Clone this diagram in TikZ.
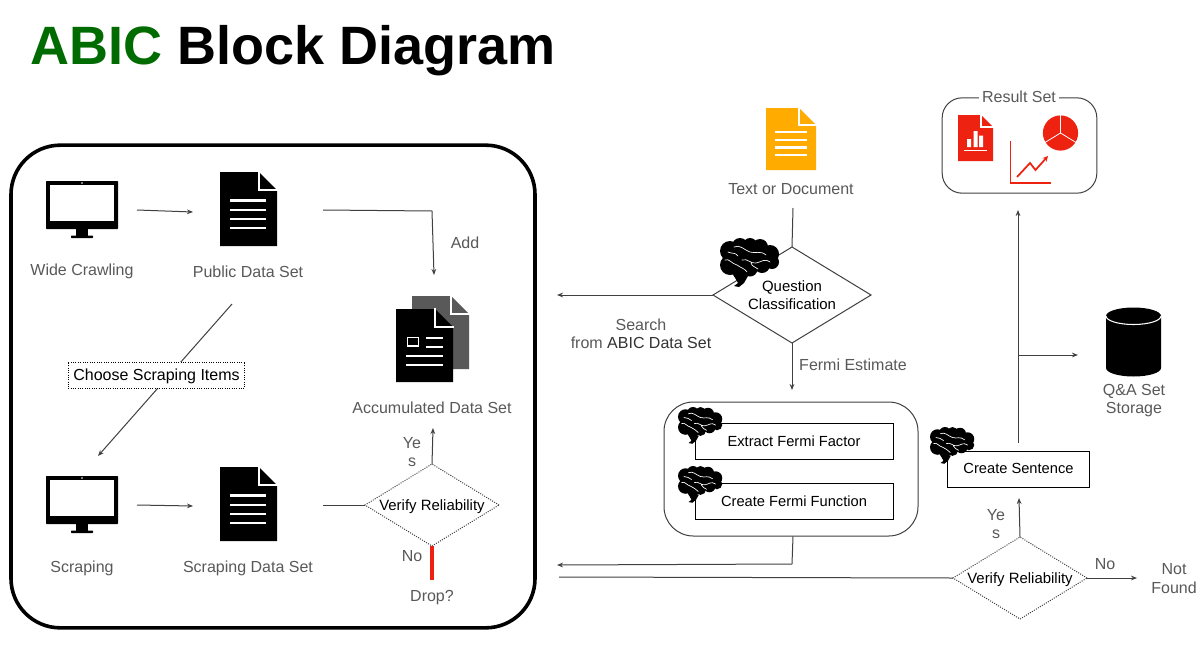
\documentclass[tikz,border=0pt]{standalone}
\usepackage{fontspec}
\setmainfont{Liberation Sans}
\usetikzlibrary{shapes.geometric,arrows.meta}
\definecolor{lbl}{HTML}{595959}
\definecolor{conn}{HTML}{404040}
\definecolor{redic}{HTML}{EE2211}
\definecolor{orangeic}{HTML}{FFAB00}
\definecolor{titlegreen}{HTML}{006B00}
\newcommand{\docicon}[6]{%x,y,w,h,fold,color
  \fill[#6] (#1,#2) -- ++(#3-#5,0) -- ++(#5,#5) -- (#1+#3,#2+#4) -- (#1,#2+#4) -- cycle;
  \draw[white,line width=1.1pt] (#1+#3-#5,#2-1) -- (#1+#3-#5,#2+#5) -- (#1+#3+1,#2+#5);
}
\newcommand{\whln}[3]{\draw[white,line width=2.1pt] (#1,#3) -- (#2,#3);}
\newcommand{\monitor}[2]{%
  \begin{scope}[shift={(#1,#2)}]
    \fill[black,rounded corners=0.5pt] (0,0) rectangle (72,48);
    \fill[white] (4,4) rectangle (68,40);
    \fill[white] (36,2) circle (0.8);
    \fill[black] (30,48) rectangle (42,55);
    \fill[black,rounded corners=0.5pt] (25,54.5) rectangle (47,57);
  \end{scope}}
\newcommand{\brain}[3]{%
  \begin{scope}[shift={(#1,#2)},scale=#3]
    \fill[black] (10,13) circle (10) (20,8) circle (8) (30,7) circle (7) (40,9) circle (8)
      (50,16) circle (9) (52,24) circle (7) (42,27) circle (8) (30,31) circle (7.5)
      (20,33) circle (8) (10,27) circle (10) (25,20) circle (14) (38,20) circle (10);
    \fill[black] (14,38) -- (28,38) -- (24,45) -- (19,49) -- (14,48) -- (18,45) -- cycle;
    \draw[white,line width=0.5pt,line cap=round]
      (14,9) .. controls (20,6) and (24,12) .. (30,14) .. controls (36,16) and (40,12) .. (46,17)
      (22,22) .. controls (28,20) and (30,26) .. (36,25) .. controls (42,24) and (44,20) .. (50,24)
      (5,22) .. controls (9,20) and (12,26) .. (17,27) .. controls (21,30) and (24,30) .. (27,34)
      (31,25) .. controls (32,29) and (36,29) .. (38,31)
      (8,14) .. controls (12,16) and (15,14) .. (18,18);
  \end{scope}}
\newcommand{\lowertext}[1]{\raisebox{-4pt}[0pt][0pt]{#1}}
\tikzset{
  conn/.style={draw=conn,line width=0.75pt},
  arr/.style={conn,-{Stealth[length=4.5pt,width=3.5pt]}},
  lab/.style={text=lbl,font=\fontsize{12}{13.5}\selectfont,align=center,inner sep=0pt},
  blk/.style={text=black,font=\fontsize{11.2}{13.5}\selectfont,align=center,inner sep=0pt},
  dia/.style={diamond,draw=conn,line width=0.75pt,inner sep=0pt,outer sep=0pt,aspect=1.6,blk},
  dotdia/.style={dia,densely dotted},
  procbox/.style={draw=black,line width=0.75pt,fill=white,font=\fontsize{11}{13.5}\selectfont,inner sep=0pt,anchor=center},
}
\begin{document}
\begin{tikzpicture}[x=0.75pt,y=-0.75pt]
\useasboundingbox (0,0) rectangle (1202,650);
\fill[white] (0,0) rectangle (1202,650);

% title
\node[anchor=base west,inner sep=0pt,font=\fontsize{40.5}{44}\bfseries\selectfont] (title) at (30,64)
  {\textcolor{titlegreen}{ABIC} Block Diagram};

% left container
\node[draw=black,line width=2.7pt,rounded corners=37pt,minimum width=393pt,minimum height=362pt,inner sep=0pt] (leftbox) at (273,386.5) {};

% icons: left
\monitor{46}{181}
\docicon{220}{172}{57}{74}{18}{black}
\foreach \yy in {200.5,210,219,228}{\whln{230}{266}{\yy}}
\monitor{46}{476}
\docicon{220}{467}{57}{74}{18}{black}
\foreach \yy in {495.5,505,514,523}{\whln{230}{266}{\yy}}

% accumulated
\docicon{412}{296}{57}{73}{18}{lbl}
\docicon{396}{309}{57}{73}{18}{black}
\draw[white,line width=1.1pt] (407.5,337.5) rectangle (418.5,346);
\whln{426}{443}{338}\whln{426}{443}{347}\whln{406}{443}{356}\whln{406}{443}{365}

% named free ends
\coordinate (wcR) at (137,210);   \coordinate (pubL) at (193,212);
\coordinate (pubR) at (323,210);  \coordinate (addc) at (432,211);  \coordinate (accT) at (434,275);
\coordinate (pubB) at (232,304);  \coordinate (scrT) at (98,456);
\coordinate (scR) at (137,505);   \coordinate (sdL) at (193,506);
\coordinate (sdR) at (323,505);
\coordinate (accB) at (433,428);  \coordinate (dropT) at (432,580);
\coordinate (txtB) at (793,208);  \coordinate (srchL) at (557,295);
\coordinate (ffT) at (792,390);
\coordinate (retc) at (792,564);  \coordinate (retL) at (557,565);
\coordinate (vrL) at (559,577);
\coordinate (csT) at (1018,443);  \coordinate (rsB) at (1018,210);
\coordinate (brn) at (1018,355);  \coordinate (qaL) at (1078,355);
\coordinate (nfL) at (1137,578);  \coordinate (csB) at (1019,498);

% labels left
\node[lab] (lwc) at (82,271.5) {Wide Crawling};
\node[lab] (lpub) at (248,271.5) {Public Data Set};
\node[lab] (ladd) at (465,242.5) {Add};
\node[lab] (lacc) at (432,407.5) {Accumulated Data Set};
\node[lab] (lsc) at (82,568.5) {Scraping};
\node[lab] (lsd) at (248,568.5) {Scraping Data Set};
\node[lab] (lyes1) at (412,452) {Ye\\s};
\node[lab] (lno1) at (412,556) {No};
\node[lab] (ldrop) at (432,598) {Drop?};

% left connectors
\draw[arr] (wcR) -- (pubL);
\draw[conn] (pubR) -- (addc);
\draw[arr] (addc) -- (accT);
\draw[arr] (pubB) -- (scrT);
\node[draw=black,densely dotted,line width=0.75pt,fill=white,font=\fontsize{12}{13.5}\selectfont,text=black,minimum width=132.5pt,minimum height=19.5pt,inner sep=0pt] (choose) at (156.5,375) {\lowertext{Choose Scraping Items}};
\draw[arr] (scR) -- (sdL);
\node[dotdia,minimum width=100.5pt,minimum height=61.5pt] (vr1) at (432,505) {\lowertext{Verify Reliability}};
\draw[conn] (sdR) -- (vr1.west);
\draw[arr] (vr1.north) -- (accB);
\draw[draw=redic,line width=2.4pt] (vr1.south) -- (dropT);

% middle
\docicon{766}{108}{50}{62}{17}{orangeic}
\foreach \yy in {132,140,147.5,155}{\whln{775}{807}{\yy}}
\node[lab] (ltxt) at (791,189) {Text or Document};
\node[dia,minimum width=118.5pt,minimum height=72pt] (qc) at (792,295) {Question\\Classification};
\draw[conn] (txtB) -- (qc.north);
\draw[arr] (qc.west) -- (srchL);
\draw[arr] (qc.south) -- (ffT);
\brain{720}{238}{1}
\node[lab] (lsearch) at (641,333.5) {Search\\from \textcolor{black!80}{ABIC Data Set}};
\node[lab] (lfermi) at (853,365) {Fermi Estimate};

% Fermi group
\node[draw=conn,line width=0.75pt,rounded corners=22pt,minimum width=190.5pt,minimum height=100.5pt,inner sep=0pt] (fermi) at (791,469) {};
\node[procbox,minimum width=149pt,minimum height=27.5pt] (ef) at (794.5,441.5) {};
\node[blk,font=\fontsize{11}{13.5}\selectfont] (eft) at (794,441.5) {Extract Fermi Factor};
\node[procbox,minimum width=149pt,minimum height=27.5pt] (cf) at (794.5,501.5) {};
\node[blk,font=\fontsize{11}{13.5}\selectfont] (cft) at (794,501.5) {Create Fermi Function};
\brain{678}{407}{0.75}
\brain{678}{466}{0.75}
\draw[conn] (fermi.south) ++(2,0) coordinate (fs) -- (retc);
\draw[arr] (retc) -- (retL);

% lower right
\node[dotdia,minimum width=100.5pt,minimum height=61.5pt] (vr2) at (1020,578) {\lowertext{Verify Reliability}};
\draw[conn] (vrL) -- (vr2.west);
\draw[arr] (vr2.east) -- (nfL);
\draw[arr] (vr2.north) -- (csB);
\node[lab] (lyes2) at (996,524) {Ye\\s};
\node[lab] (lno2) at (1105,564) {No};
\node[lab,font=\fontsize{12}{14}\selectfont] (lnf) at (1174,578.5) {Not\\Found};
\node[procbox,minimum width=107pt,minimum height=27pt] (cs) at (1018.5,469) {\raisebox{0.5pt}{Create Sentence}};
\brain{930}{427}{0.75}
\draw[arr] (csT) -- (rsB);
\draw[arr] (brn) -- (qaL);

% result set
\node[draw=conn,line width=0.75pt,rounded corners=15pt,minimum width=116pt,minimum height=71.5pt,inner sep=0pt] (rs) at (1019.5,145.5) {};
\node[lab,fill=white,inner xsep=2pt,inner ysep=1pt] (lrs) at (1019,97) {Result Set};
\docicon{958}{115}{35}{46}{12}{redic}
\fill[white] (967,139) rectangle (971,147) (973.5,131) rectangle (977.5,147) (979,135.5) rectangle (983,147);
\draw[white,line width=1pt] (964,150.5) -- (987,150.5);
\fill[redic] (1060.5,133) circle (17.6);
\draw[white,line width=0.6pt] (1060.5,115) -- (1060.5,133) -- (1076,142.5) (1060.5,133) -- (1045,142.5);
\draw[redic,line width=1.1pt] (1010.5,141) -- (1010.5,183) -- (1051,183);
\draw[redic,line width=1.3pt,-{Stealth[length=4pt,width=4pt]}] (1017,177) -- (1030,163) -- (1035.5,170) -- (1048,156);

% cylinder
\fill[black] (1106,316) arc[start angle=180,end angle=360,x radius=27.5,y radius=8.5] -- (1161,368) arc[start angle=0,end angle=180,x radius=27.5,y radius=8.5] -- cycle;
\draw[white,line width=0.8pt] (1106,316) arc[start angle=180,end angle=0,x radius=27.5,y radius=8.5];
\node[lab] (lqa) at (1134,401) {Q\&A Set\\Storage};
\end{tikzpicture}
\end{document}
